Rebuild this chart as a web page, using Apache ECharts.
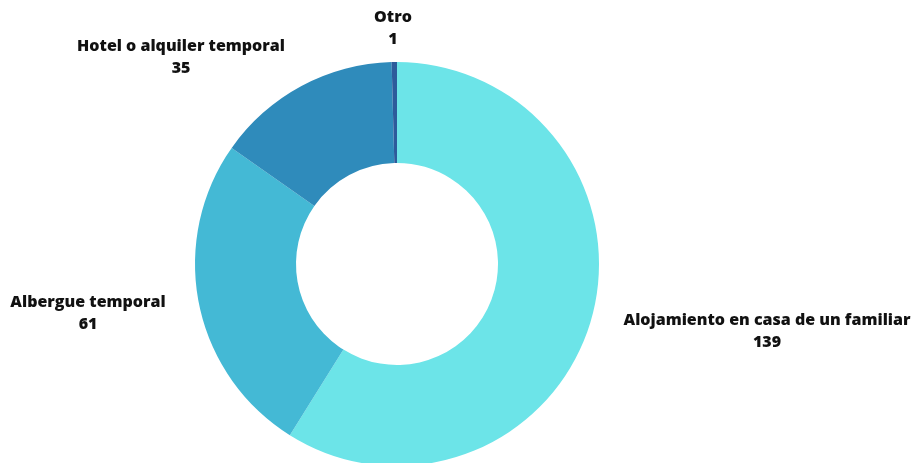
<!DOCTYPE html>
<html>
<head>
<meta charset="utf-8">
<script src="https://cdn.jsdelivr.net/npm/echarts@6/dist/echarts.min.js"></script>
<style>
  html, body { margin: 0; padding: 0; background: #ffffff; }
  #chart { width: 913px; height: 463px; }
</style>
</head>
<body>
<div id="chart"></div>
<script>
// Tipo de alojamiento (número de personas)
const categories = [
  'Alojamiento en casa de un familiar',
  'Albergue temporal',
  'Hotel o alquiler temporal',
  'Otro'
];
const values = [139, 61, 35, 1];
const colors = ['#6ce4e8', '#44b9d5', '#2f8bbb', '#2d5b9b'];

// Where each two-line label block sits (centre of the text)
const labelSpots = [
  [767, 331],
  [88, 313],
  [181, 57],
  [393, 28]
];

const chart = echarts.init(document.getElementById('chart'), null, { renderer: 'canvas' });

chart.setOption({
  animation: false,
  backgroundColor: '#ffffff',
  series: [{
    type: 'pie',
    center: [397, 264],
    radius: [101, 202],
    startAngle: 90,
    clockwise: true,
    avoidLabelOverlap: false,
    data: categories.map((name, i) => ({
      name: name,
      value: values[i],
      itemStyle: { color: colors[i] }
    })),
    itemStyle: { borderWidth: 0 },
    label: {
      show: true,
      position: 'outside',
      formatter: '{b}\n{c}',
      fontFamily: 'Open Sans',
      fontWeight: 800,
      fontSize: 16,
      lineHeight: 22,
      color: '#111111',
      align: 'center'
    },
    labelLine: { show: false },
    labelLayout: function (params) {
      const p = labelSpots[params.dataIndex];
      return { x: p[0], y: p[1], align: 'center', verticalAlign: 'middle' };
    },
    emphasis: { disabled: true }
  }]
});
</script>
</body>
</html>
